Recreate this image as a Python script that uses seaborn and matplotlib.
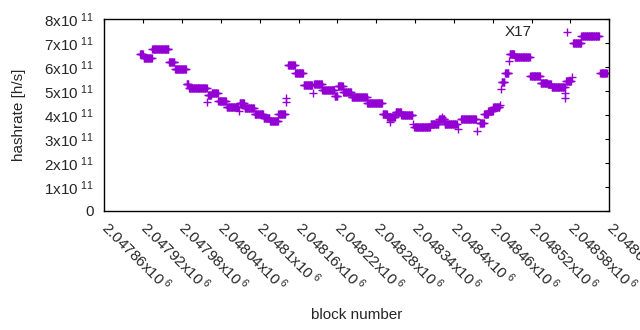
import numpy as np
import pandas as pd
import matplotlib
matplotlib.use('Agg')
import matplotlib.pyplot as plt
import seaborn as sns

# runs of blocks sharing the same hashrate estimate (rate in units of 1e11 h/s)
run_start = [2047915, 2047921, 2047934, 2047960, 2047969, 2047987, 2047991,
             2048020, 2048026, 2048036, 2048049, 2048069, 2048077, 2048092,
             2048106, 2048116, 2048129, 2048144, 2048155, 2048168, 2048184,
             2048197, 2048216, 2048221, 2048229, 2048242, 2048266, 2048290,
             2048297, 2048310, 2048319, 2048339, 2048351, 2048364, 2048377,
             2048386, 2048411, 2048440, 2048447, 2048453, 2048461, 2048474,
             2048479, 2048486, 2048494, 2048518, 2048534, 2048545, 2048551,
             2048573, 2048584, 2048597, 2048626]
run_end = [2047920, 2047933, 2047959, 2047968, 2047986, 2047990, 2048018,
           2048025, 2048035, 2048048, 2048067, 2048076, 2048091, 2048105,
           2048115, 2048128, 2048139, 2048154, 2048167, 2048181, 2048196,
           2048215, 2048220, 2048228, 2048241, 2048265, 2048289, 2048296,
           2048309, 2048318, 2048336, 2048350, 2048363, 2048376, 2048385,
           2048404, 2048434, 2048446, 2048452, 2048460, 2048470, 2048478,
           2048484, 2048493, 2048517, 2048533, 2048544, 2048550, 2048571,
           2048581, 2048596, 2048624, 2048636]
run_rate = [6.53, 6.36, 6.74, 6.20, 5.90, 5.29, 5.11,
            4.83, 4.93, 4.60, 4.35, 4.51, 4.28, 4.05,
            3.86, 3.76, 4.04, 6.07, 5.74, 5.24, 5.28,
            5.03, 4.80, 5.19, 4.95, 4.74, 4.49, 4.03,
            3.92, 4.11, 3.99, 3.52, 3.49, 3.62, 3.85,
            3.63, 3.82, 3.67, 4.04, 4.16, 4.35, 5.37,
            5.76, 6.53, 6.43, 5.61, 5.35, 5.29, 5.15,
            5.40, 6.99, 7.29, 5.74]

# single blocks off the runs
single_block = [2048019, 2048068, 2048140, 2048141, 2048182, 2048301, 2048337,
                2048381, 2048407, 2048436, 2048471, 2048472, 2048485, 2048571,
                2048572, 2048582]
single_rate = [4.53, 4.17, 4.55, 4.72, 4.90, 3.72, 3.63,
               3.93, 3.40, 3.33, 4.42, 5.07, 6.26, 4.70,
               4.90, 5.60]

xtick_pos = [2047860, 2047920, 2047980, 2048040, 2048100, 2048160, 2048220,
             2048280, 2048340, 2048400, 2048460, 2048520, 2048580, 2048640]
xtick_lab = ['2.04786x10$^{\\ 6}$', '2.04792x10$^{\\ 6}$', '2.04798x10$^{\\ 6}$',
             '2.04804x10$^{\\ 6}$', '2.0481x10$^{\\ 6}$', '2.04816x10$^{\\ 6}$',
             '2.04822x10$^{\\ 6}$', '2.04828x10$^{\\ 6}$', '2.04834x10$^{\\ 6}$',
             '2.0484x10$^{\\ 6}$', '2.04846x10$^{\\ 6}$', '2.04852x10$^{\\ 6}$',
             '2.04858x10$^{\\ 6}$', '2.04864x10$^{\\ 6}$']
ytick_pos = [0, 1e11, 2e11, 3e11, 4e11, 5e11, 6e11, 7e11, 8e11]
ytick_lab = ['0', '1x10$^{\\ 11}$', '2x10$^{\\ 11}$', '3x10$^{\\ 11}$',
             '4x10$^{\\ 11}$', '5x10$^{\\ 11}$', '6x10$^{\\ 11}$',
             '7x10$^{\\ 11}$', '8x10$^{\\ 11}$']

blocks = []
rates = []
for s, e, r in zip(run_start, run_end, run_rate):
    n = e - s + 1
    blocks += list(range(s, e + 1))
    rates += [r] * n
blocks += single_block
rates += single_rate
df = pd.DataFrame({'block': blocks, 'hashrate': np.array(rates) * 1e11})

sns.set_style('white')
plt.rcParams['font.family'] = ['Liberation Sans', 'DejaVu Sans']
plt.rcParams['mathtext.fontset'] = 'custom'
plt.rcParams['mathtext.rm'] = 'Liberation Sans'
plt.rcParams['mathtext.it'] = 'Liberation Sans:italic'
plt.rcParams['mathtext.default'] = 'regular'

fig = plt.figure(figsize=(6.4, 3.3), dpi=100)
ax = fig.add_axes([104.3 / 640, 1 - 211 / 330, 505 / 640, 192 / 330])

sns.scatterplot(data=df, x='block', y='hashrate', marker='+', s=26,
                color='#9400d3', linewidth=1, label='X17', ax=ax)

ax.set_xlim(2047860, 2048640)
ax.set_ylim(0, 8e11)
ax.set_xticks(xtick_pos)
ax.set_xticklabels(xtick_lab, rotation=-45, ha='left', va='center',
                   rotation_mode='anchor', fontsize=11)
ax.set_yticks(ytick_pos)
ax.set_yticklabels(ytick_lab, fontsize=11)
ax.tick_params(direction='in', length=3, width=0.8, top=True, right=True,
               color='black')
ax.tick_params(axis='x', pad=10)
ax.tick_params(axis='y', pad=7.5)
for sp in ax.spines.values():
    sp.set_visible(True)
    sp.set_color('black')
    sp.set_linewidth(1.0)

ax.set_xlabel('block number', fontsize=11)
ax.set_ylabel('hashrate [h/s]', fontsize=11)
ax.xaxis.set_label_coords(0.5, -0.505)
ax.yaxis.set_label_coords(-0.155, 0.5)

ax.legend(loc='center right', bbox_to_anchor=(0.973, 0.932), frameon=False,
          markerfirst=False, handlelength=2.98, handletextpad=0.8,
          fontsize=11, borderaxespad=0)

fig.savefig('out.png', dpi=100)
